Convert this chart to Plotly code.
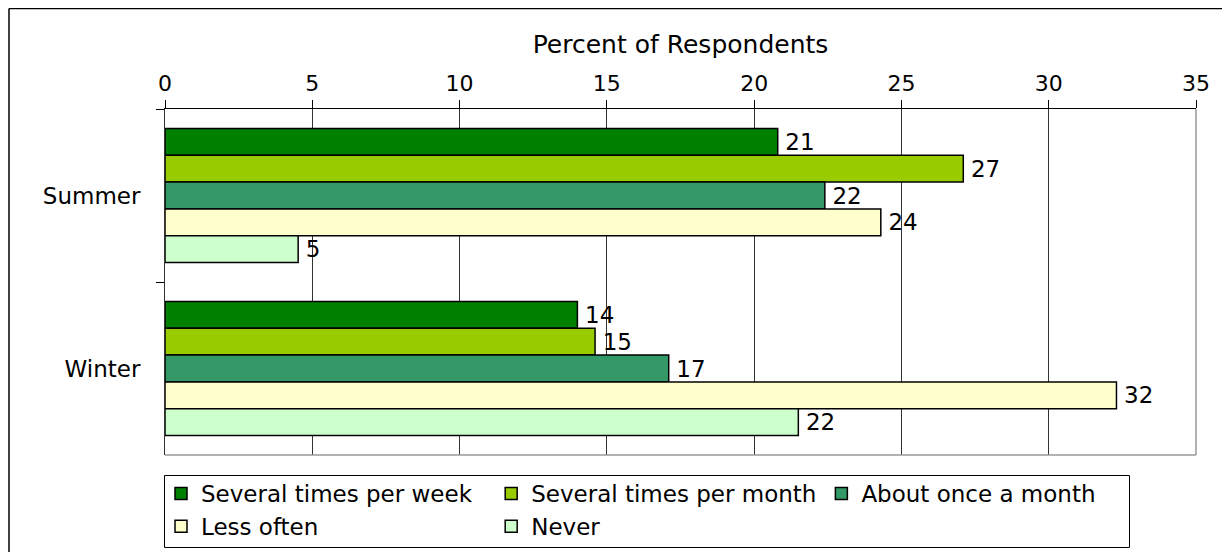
import plotly.graph_objects as go

seasons = ["Summer", "Winter"]
series_names = ["Several times per week", "Several times per month",
                "About once a month", "Less often", "Never"]
several_week = [20.8, 14.0]
several_month = [27.1, 14.6]
once_month = [22.4, 17.1]
less_often = [24.3, 32.3]
never = [4.52, 21.5]
x_ticks = [0, 5, 10, 15, 20, 25, 30, 35]

colors = ["#008000", "#99CC00", "#339966", "#FFFFCC", "#CCFFCC"]
series_values = [several_week, several_month, once_month, less_often, never]

FONT = "DejaVu Sans"
OFF = 8  # page body margin offsets the figure by 8px
W, H = 1230 - OFF, 552 - OFF
L, T = 165 - OFF, 109 - OFF
R = W - (1196 - OFF)
B = H - (455 - OFF)
PW, PH = W - L - R, H - T - B


def px_x(px):
    """page pixel -> paper x"""
    return (px - OFF - L) / PW


def px_y(py):
    """page pixel -> paper y"""
    return (H - B - (py - OFF)) / PH


fig = go.Figure()
for name, vals, col in zip(series_names, series_values, colors):
    fig.add_trace(go.Bar(
        name=name, y=seasons, x=vals, orientation="h",
        marker=dict(color=col, line=dict(color="#000000", width=1.5)),
        texttemplate="\u2009%{x:.0f}", textposition="outside",
        textfont=dict(family=FONT, size=23, color="#000000"),
        constraintext="none", cliponaxis=False,
    ))

fig.update_layout(
    width=W, height=H,
    margin=dict(l=L, r=R, t=T, b=B, autoexpand=False),
    paper_bgcolor="white", plot_bgcolor="white",
    barmode="group", bargap=0.225, bargroupgap=0,
    font=dict(family=FONT, size=23, color="#000000"),
    xaxis=dict(
        side="top", range=[0, 35], tickvals=x_ticks,
        showgrid=True, gridcolor="#333333", gridwidth=1,
        zeroline=False, showline=True, linecolor="#000000", linewidth=1,
        ticks="outside", ticklen=8, tickcolor="#000000",
        tickfont=dict(family=FONT, size=22, color="#000000"),
        title=dict(text="Percent of Respondents", standoff=10,
                   font=dict(family=FONT, size=25, color="#000000")),
        fixedrange=True, automargin=False,
    ),
    yaxis=dict(
        autorange="reversed", showgrid=False, zeroline=False,
        showline=True, linecolor="#333333", linewidth=1,
        ticks="outside", ticklen=8, tickcolor="#000000", tickson="boundaries",
        ticklabelstandoff=19,
        tickfont=dict(family=FONT, size=23, color="#000000"),
        fixedrange=True, automargin=False,
    ),
    legend=dict(
        orientation="h", x=px_x(161), xanchor="left", y=px_y(472), yanchor="top",
        bgcolor="rgba(0,0,0,0)", borderwidth=0,
        font=dict(family=FONT, size=23, color="#000000"),
        itemwidth=30, traceorder="normal",
    ),
    shapes=[
        # plot area right and bottom border (gray)
        dict(type="line", xref="paper", yref="paper", x0=1, x1=1, y0=0, y1=1,
             line=dict(color="#999999", width=1.5), layer="above"),
        dict(type="line", xref="paper", yref="paper", x0=0, x1=1, y0=0, y1=0,
             line=dict(color="#999999", width=1.5), layer="above"),
        # legend frame
        dict(type="rect", xref="paper", yref="paper",
             x0=px_x(164.5), x1=px_x(1129.5), y0=px_y(475.5), y1=px_y(547.5),
             line=dict(color="#000000", width=1), fillcolor="rgba(0,0,0,0)",
             layer="below"),
        # outer chart frame (top and left visible)
        dict(type="line", xref="paper", yref="paper", x0=px_x(9), x1=px_x(1240),
             y0=px_y(8.5), y1=px_y(8.5), line=dict(color="#000000", width=1.5)),
        dict(type="line", xref="paper", yref="paper", x0=px_x(9), x1=px_x(9),
             y0=px_y(8.5), y1=px_y(560), line=dict(color="#000000", width=1.5)),
    ],
)

fig.write_html("out.html")
